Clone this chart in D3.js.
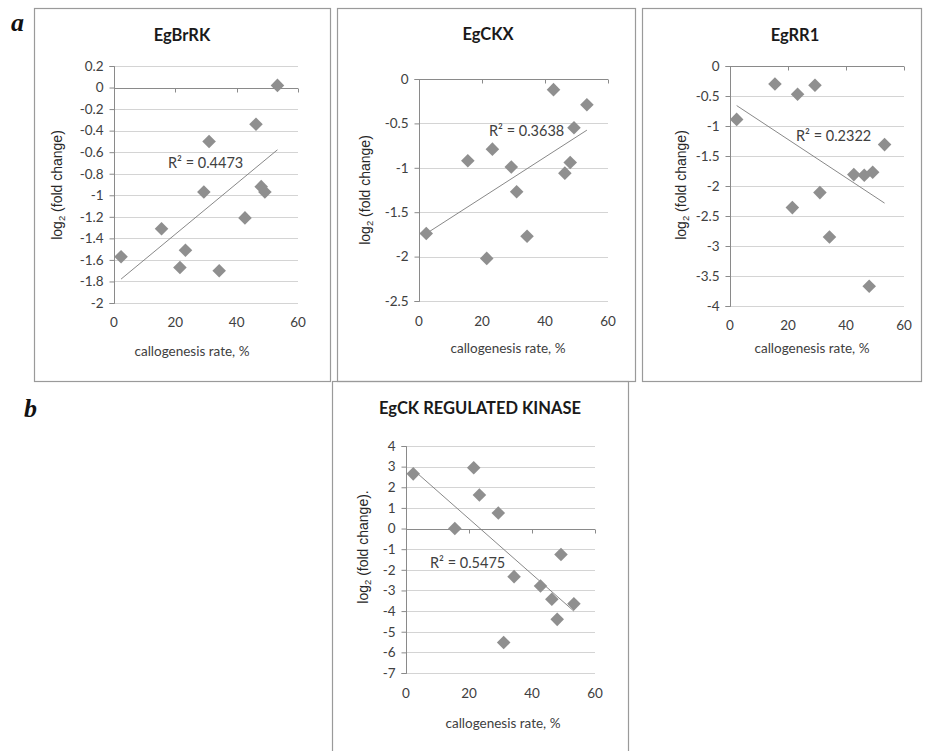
<!DOCTYPE html>
<html><head><meta charset="utf-8">
<script src="https://cdn.jsdelivr.net/npm/d3@7"></script>
<style>body{margin:0;background:#fff} svg{display:block}</style>
</head><body><svg id="c" width="926" height="751"></svg>
<script>
// ---- data ----
const callogenesisRate = [2.3, 15.5, 21.5, 23.3, 29.3, 31.0, 34.3, 42.7, 46.3, 48.0, 49.2, 53.3];
const egBrRK = [-1.57, -1.31, -1.67, -1.51, -0.97, -0.50, -1.70, -1.21, -0.34, -0.92, -0.97, 0.02];
const egCKX = [-1.74, -0.92, -2.02, -0.79, -0.99, -1.27, -1.77, -0.12, -1.06, -0.94, -0.55, -0.29];
const egRR1 = [-0.89, -0.30, -2.36, -0.47, -0.32, -2.11, -2.85, -1.81, -1.82, -3.67, -1.77, -1.31];
const egCKRegKinase = [2.65, 0.00, 2.95, 1.63, 0.75, -5.52, -2.33, -2.78, -3.43, -4.40, -1.26, -3.65];
const chartTitles = ["EgBrRK", "EgCKX", "EgRR1", "EgCK REGULATED KINASE"];
const r2Labels = ["R² = 0.4473", "R² = 0.3638", "R² = 0.2322", "R² = 0.5475"];
const xTicks = [0, 20, 40, 60];
const yTicks1 = [0.2, 0, -0.2, -0.4, -0.6, -0.8, -1, -1.2, -1.4, -1.6, -1.8, -2];
const yTicks2 = [0, -0.5, -1, -1.5, -2, -2.5];
const yTicks3 = [0, -0.5, -1, -1.5, -2, -2.5, -3, -3.5, -4];
const yTicks4 = [4, 3, 2, 1, 0, -1, -2, -3, -4, -5, -6, -7];
const yTitleSuffix = ["", "", "", "."];
const xAxisTitle = "callogenesis rate, %";
const panelLetters = ["a", "b"];

// ---- layout ----
const svg = d3.select("#c");
svg.append("rect").attr("width", 926).attr("height", 751).attr("fill", "#fff");

const panels = [
  {values: egBrRK, yTicks: yTicks1, box: [34, 8, 330, 381], xr: [114, 298], yr: [66, 303],
   title: [182, 35], yTitle: [57, 185], xTickY: 322, xTitle: [192, 351], r2: [168, 163]},
  {values: egCKX, yTicks: yTicks2, box: [337, 8, 635, 381], xr: [419, 608], yr: [79, 301],
   title: [488, 34], yTitle: [365, 190], xTickY: 321, xTitle: [508, 348], r2: [489, 131]},
  {values: egRR1, yTicks: yTicks3, box: [642, 8, 921, 381], xr: [730, 904], yr: [66, 306],
   title: [795, 35], yTitle: [681, 185], xTickY: 325, xTitle: [812, 348], r2: [796, 136]},
  {values: egCKRegKinase, yTicks: yTicks4, box: [332, 381, 628, 760], xr: [406, 595], yr: [446, 673],
   title: [480, 408], yTitle: [363, 547], xTickY: 693, xTitle: [503, 723], r2: [430, 563]}
];

const tickFont = "Lato, 'Open Sans', sans-serif";

panels.forEach((p, i) => {
  const g = svg.append("g");
  const [bx0, by0, bx1, by1] = p.box;
  g.append("rect").attr("x", bx0 + 0.5).attr("y", by0 + 0.5)
    .attr("width", bx1 - bx0).attr("height", by1 - by0)
    .attr("fill", "none").attr("stroke", "#9a9a9a").attr("stroke-width", 1.2);

  const x = d3.scaleLinear().domain([0, 60]).range(p.xr);
  const yMax = d3.max(p.yTicks), yMin = d3.min(p.yTicks);
  const y = d3.scaleLinear().domain([yMax, yMin]).range(p.yr);

  // gridlines
  g.append("g").selectAll("line").data(p.yTicks).join("line")
    .attr("x1", p.xr[0]).attr("x2", p.xr[1])
    .attr("y1", d => Math.round(y(d)) + 0.5).attr("y2", d => Math.round(y(d)) + 0.5)
    .attr("stroke", "#d4d4d4").attr("stroke-width", 1);

  // y axis
  const yAxis = d3.axisLeft(y).tickValues(p.yTicks).tickSize(5).tickPadding(6)
    .tickFormat(d => String(d).replace("\u2212", "-"));
  const ya = g.append("g").attr("transform", `translate(${Math.round(p.xr[0]) + 0.5},0)`).call(yAxis);
  ya.select(".domain").attr("stroke", "#8a8a8a").attr("d", `M-5,${Math.round(y(yMax))+0.5}H0V${Math.round(y(yMin))+0.5}H-5`);
  ya.selectAll(".tick line").attr("stroke", "#8a8a8a");
  ya.selectAll(".tick text").attr("fill", "#404040").attr("font-family", tickFont).attr("font-size", 13.5);

  // x axis at y = 0 (ticks only), labels at bottom
  const y0 = Math.round(y(0)) + 0.5;
  g.append("line").attr("x1", p.xr[0]).attr("x2", p.xr[1]).attr("y1", y0).attr("y2", y0)
    .attr("stroke", "#8a8a8a");
  g.append("g").selectAll("line").data(xTicks).join("line")
    .attr("x1", d => Math.round(x(d)) + 0.5).attr("x2", d => Math.round(x(d)) + 0.5)
    .attr("y1", y0).attr("y2", y0 + 4).attr("stroke", "#8a8a8a");
  g.append("g").selectAll("text").data(xTicks).join("text")
    .attr("x", d => x(d)).attr("y", p.xTickY).attr("dy", "0.35em")
    .attr("text-anchor", "middle").attr("fill", "#404040")
    .attr("font-family", tickFont).attr("font-size", 13.5).text(d => d);

  // trend line (least squares)
  const xs = callogenesisRate, ys = p.values;
  const mx = d3.mean(xs), my = d3.mean(ys);
  const slope = d3.sum(xs, (v, k) => (v - mx) * (ys[k] - my)) / d3.sum(xs, v => (v - mx) ** 2);
  const icpt = my - slope * mx;
  const [xa, xb] = d3.extent(xs);
  g.append("line").attr("x1", x(xa)).attr("y1", y(icpt + slope * xa))
    .attr("x2", x(xb)).attr("y2", y(icpt + slope * xb))
    .attr("stroke", "#7a7a7a").attr("stroke-width", 0.9);

  // points
  g.append("g").selectAll("path").data(xs.map((v, k) => [v, ys[k]])).join("path")
    .attr("d", d3.symbol(d3.symbolSquare, 92))
    .attr("transform", d => `translate(${x(d[0])},${y(d[1])}) rotate(45)`)
    .attr("fill", "#8f8f8f");

  // R² label
  g.append("text").attr("x", p.r2[0]).attr("y", p.r2[1]).attr("dy", "0.35em")
    .attr("fill", "#404040").attr("font-family", tickFont).attr("font-size", 14.5)
    .text(r2Labels[i]);

  // title
  g.append("text").attr("x", p.title[0]).attr("y", p.title[1]).attr("dy", "0.35em")
    .attr("text-anchor", "middle").attr("fill", "#1a1a1a")
    .attr("font-family", tickFont).attr("font-weight", "bold").attr("font-size", 16.5)
    .text(chartTitles[i]);

  // x title
  g.append("text").attr("x", p.xTitle[0]).attr("y", p.xTitle[1]).attr("dy", "0.35em")
    .attr("text-anchor", "middle").attr("fill", "#404040")
    .attr("font-family", tickFont).attr("font-size", 13.5).text(xAxisTitle);

  // y title
  const yt = g.append("text")
    .attr("transform", `translate(${p.yTitle[0]},${p.yTitle[1]}) rotate(-90)`)
    .attr("dy", "0.35em").attr("text-anchor", "middle").attr("fill", "#262626")
    .attr("font-family", "'Liberation Sans', Arial, sans-serif").attr("font-size", 14);
  yt.append("tspan").text("log");
  yt.append("tspan").attr("font-size", 9.5).attr("dy", "0.35em").text("2");
  yt.append("tspan").attr("dy", "-0.24em").text(" (fold change)" + yTitleSuffix[i]);
});

// panel letters
svg.append("text").attr("x", 11).attr("y", 31).text(panelLetters[0])
  .attr("font-family", "'Liberation Serif', 'DejaVu Serif', serif").attr("font-style", "italic")
  .attr("font-weight", "bold").attr("font-size", 26).attr("fill", "#111");
svg.append("text").attr("x", 24).attr("y", 417).text(panelLetters[1])
  .attr("font-family", "'Liberation Serif', 'DejaVu Serif', serif").attr("font-style", "italic")
  .attr("font-weight", "bold").attr("font-size", 26).attr("fill", "#111");
</script></body></html>
